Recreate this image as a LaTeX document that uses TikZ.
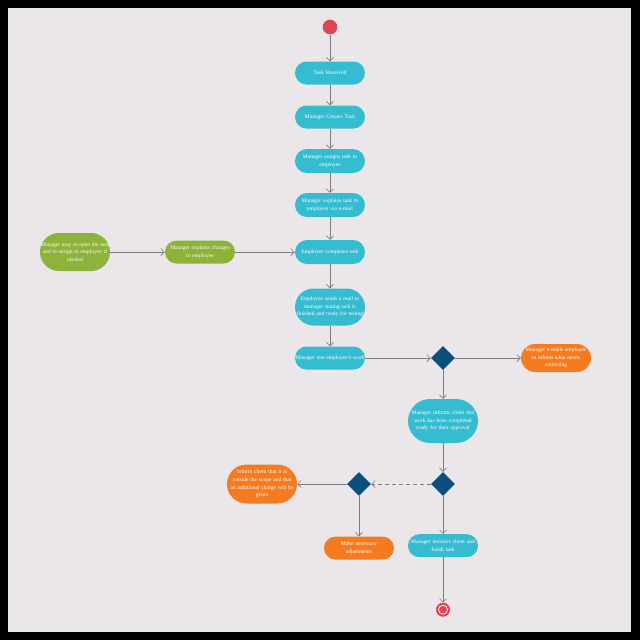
\documentclass[tikz,border=0pt]{standalone}
\usepackage{fontspec}
\setmainfont{Liberation Serif}
\usetikzlibrary{arrows.meta,shapes.geometric,positioning}
\definecolor{bgpaper}{RGB}{235,230,233}
\definecolor{taskteal}{RGB}{54,188,209}
\definecolor{fixgreen}{RGB}{141,179,58}
\definecolor{warnorange}{RGB}{244,123,32}
\definecolor{gateblue}{RGB}{12,78,126}
\definecolor{dotred}{RGB}{224,69,85}
\definecolor{linegray}{RGB}{125,125,125}
\tikzset{
	box/.style={rectangle, fill=taskteal, text=white, text width=2.1cm, inner xsep=0pt, inner ysep=0pt, align=center, font=\fontsize{4.7}{6.5}\selectfont},
	pill/.style={minimum height=#1cm, rounded corners=#1*0.5cm},
	pill/.default=0.69,
	stage/.style={box, pill},
	revise/.style={box, pill, fill=fixgreen},
	alert/.style={box, pill, fill=warnorange},
	choice/.style={diamond, fill=gateblue, inner sep=0pt, minimum width=0.72cm, minimum height=0.72cm},
	flow/.style={draw=linegray, line width=0.5pt, -{Straight Barb[length=3pt,width=6pt]}}
}
\begin{document}
\begin{tikzpicture}[x=0.03cm, y=0.03cm, on grid]
		% background and frame
		\fill[black] (-330,27) rectangle (310,-613);
		\fill[bgpaper] (-322,19) rectangle (301,-605);
		
		\node[circle, fill=dotred, minimum size=0.44cm, inner sep=0pt] (start) at (0,0) {};
		
		\node[stage, below=1.38cm of start] (received) {Task Received};
		\node[stage, below=1.32cm of received] (creates) {Manager Creates Task};
		\node[stage, pill=0.72, below=1.32cm of creates] (assigns) {Manager assigns task to\\employee};
		\node[stage, pill=0.72, below=1.32cm of assigns] (explains) {Manager explains task to\\employee via e-mail};
		\node[stage, pill=0.72, below=1.41cm of explains] (completes) {Employee completes task};
		\node[stage, pill=1.11, below=1.65cm of completes] (sends) {Employee sends a mail to\\manager stating task is\\finished and ready for testing};
		\node[stage, below=1.53cm of sends] (test) {Manager test employee's work};
		
		\node[choice, right=3.39cm of test] (gate1) {};
		\node[alert, pill=0.84, right=3.39cm of gate1] (rework) {Manager e-mails employee\\to inform what needs\\correcting};
		\node[stage, pill=1.32, below=1.89cm of gate1] (informs) {Manager informs client that\\work has been completed\\ready for their approval};
		\node[choice, below=1.89cm of informs] (gate2) {};
		\node[choice, left=2.52cm of gate2] (gate3) {};
		\node[alert, pill=1.17, left=2.91cm of gate3] (scope) {Inform client that it is\\outside the scope and that\\an additional charge will be\\given};
		\node[alert, below=1.92cm of gate3] (adjust) {Make necessary\\adjustments};
		\node[stage, below=1.85cm of gate2] (invoice) {Manager invoices client and\\finish task};
		
		\node[circle, fill=dotred, minimum size=0.42cm, inner sep=0pt, below=1.92cm of invoice] (finish) {};
		\node[circle, fill=dotred, draw=white, line width=0.6pt, minimum size=0.27cm, inner sep=0pt] (finishcore) at (finish) {};
		
		\node[revise, left=3.9cm of completes] (changes) {Manager explains changes\\to employee};
		\node[revise, pill=1.14, left=3.75cm of changes] (reopen) {Manager may re-open the task\\and re-assign to employee if\\needed};
		
		\draw[flow] (start) -- (received);
		\draw[flow] (received) -- (creates);
		\draw[flow] (creates) -- (assigns);
		\draw[flow] (assigns) -- (explains);
		\draw[flow] (explains) -- (completes);
		\draw[flow] (completes) -- (sends);
		\draw[flow] (sends) -- (test);
		\draw[flow] (test) -- (gate1);
		\draw[flow] (gate1) -- (rework);
		\draw[flow] (gate1) -- (informs);
		\draw[flow] (informs) -- (gate2);
		\draw[flow, dashed] (gate2) -- (gate3);
		\draw[flow] (gate3) -- (scope);
		\draw[flow] (gate3) -- (adjust);
		\draw[flow] (gate2) -- (invoice);
		\draw[flow] (invoice) -- (finish);
		\draw[flow] (reopen) -- (changes);
		\draw[flow] (changes) -- (completes);
\end{tikzpicture}
\end{document}
